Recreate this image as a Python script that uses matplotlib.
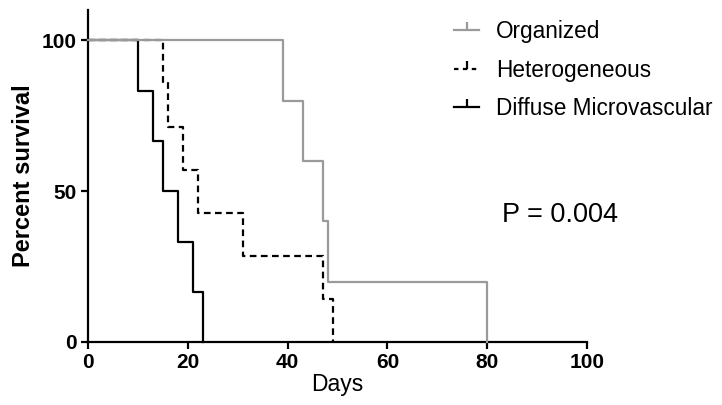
import matplotlib
matplotlib.use("Agg")
import matplotlib.pyplot as plt
from matplotlib.lines import Line2D

plt.rcParams["font.family"] = ["Liberation Sans", "DejaVu Sans"]

# Kaplan-Meier steps (days, percent survival)
organized_days = [0, 39, 43, 47, 48, 80]
organized_surv = [100, 80, 60, 40, 20, 0]

hetero_days = [0, 15, 16, 19, 22, 31, 47, 49]
hetero_surv = [100, 85.7, 71.4, 57.1, 42.9, 28.6, 14.3, 0]

diffuse_days = [0, 10, 13, 15, 18, 21, 23]
diffuse_surv = [100, 83.3, 66.7, 50, 33.3, 16.7, 0]

group_names = ["Organized", "Heterogeneous", "Diffuse Microvascular"]
p_text = "P = 0.004"

fig = plt.figure(figsize=(7.22, 4.05), dpi=100)
ax = fig.add_axes([0.1219, 0.1556, 0.6911, 0.8194])

grey = "#9a9a9a"
ax.step(diffuse_days, diffuse_surv, where="post", color="black", lw=1.6, clip_on=False, zorder=3)
ax.step(hetero_days, hetero_surv, where="post", color="black", lw=1.6, dashes=(3, 2),
        clip_on=False, zorder=3)
ax.step(organized_days, organized_surv, where="post", color=grey, lw=1.6, clip_on=False, zorder=4)

ax.set_xlim(0, 100)
ax.set_ylim(0, 110)
ax.set_xticks([0, 20, 40, 60, 80, 100])
ax.set_yticks([0, 50, 100])
for s in ["top", "right"]:
    ax.spines[s].set_visible(False)
for s in ["left", "bottom"]:
    ax.spines[s].set_linewidth(1.6)
ax.tick_params(direction="out", length=5, width=1.6, labelsize=15, pad=3)
for lab in ax.get_xticklabels() + ax.get_yticklabels():
    lab.set_fontweight("bold")

ax.set_xlabel("Days", fontsize=16.5, labelpad=1)
ax.set_ylabel("Percent survival", fontsize=17, fontweight="bold", labelpad=5)

ax.text(83, 42, p_text, fontsize=19.5, va="center", ha="left")

handles = [
    Line2D([], [], color=grey, lw=1.6, marker=2, markersize=6, markeredgewidth=1.6),
    Line2D([], [], color="black", lw=1.6, dashes=(2, 2), marker=2, markersize=6, markeredgewidth=1.6),
    Line2D([], [], color="black", lw=1.6, marker=2, markersize=6, markeredgewidth=1.6),
]
fig.legend(handles, group_names, loc="upper left", bbox_to_anchor=(0.601, 1.0),
           frameon=False, fontsize=16.3, handlelength=1.1, handletextpad=0.75,
           labelspacing=0.68)

fig.savefig("out.png", dpi=100)
